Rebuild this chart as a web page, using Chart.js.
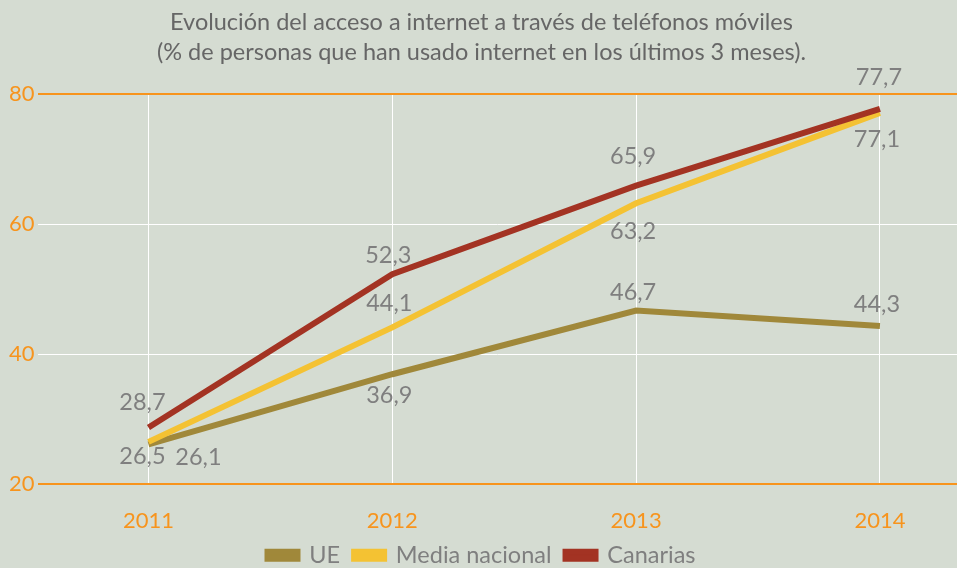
<!DOCTYPE html>
<html>
<head>
<meta charset="utf-8">
<script src="https://cdn.jsdelivr.net/npm/chart.js@4/dist/chart.umd.min.js"></script>
<style>
  html, body { margin: 0; padding: 0; background: #d5dcd2; }
  #wrap { width: 957px; height: 568px; }
</style>
</head>
<body>
<div id="wrap"><canvas id="lineChart"></canvas></div>
<script>
// data
const years = [2011, 2012, 2013, 2014];
const ue = [26.1, 36.9, 46.7, 44.3];
const mediaNacional = [26.5, 44.1, 63.2, 77.1];
const canarias = [28.7, 52.3, 65.9, 77.7];
const yTicks = [20, 40, 60, 80];

const ORANGE = '#f7941d';
const GREY = '#7f7f7f';
const FONT = 'Lato, "Open Sans", sans-serif';

function toPoints(vals) {
  return vals.map((v, i) => ({ x: years[i], y: v }));
}

// where each value label sits relative to its point: [dx, dy]
const ueLabels = [[50, 13], [-3, 21], [-3, -18], [-3, -22]];
const mediaLabels = [[-6, 15], [-3, -24], [-3, 28], [-3, 27]];
const canariasLabels = [[-6, -25], [-4, -19], [-3, -29], [-1, -32]];

const valueLabels = {
  id: 'valueLabels',
  afterDatasetsDraw(chart) {
    const c = chart.ctx;
    c.save();
    c.font = '23.5px ' + FONT;
    c.fillStyle = GREY;
    c.textAlign = 'center';
    c.textBaseline = 'middle';
    chart.data.datasets.forEach((ds, di) => {
      const meta = chart.getDatasetMeta(di);
      meta.data.forEach((pt, i) => {
        const off = ds.labelOffsets[i];
        const txt = ds.data[i].y.toFixed(1).replace('.', ',');
        c.fillText(txt, pt.x + off[0], pt.y + off[1]);
      });
    });
    c.restore();
  }
};

const ctx = document.getElementById('lineChart').getContext('2d');
const lineChart = new Chart(ctx, {
  type: 'line',
  data: {
    datasets: [
      {
        label: 'UE',
        data: toPoints(ue),
        borderColor: '#a0883a',
        backgroundColor: '#a0883a',
        labelOffsets: ueLabels,
        order: 3
      },
      {
        label: 'Media nacional',
        data: toPoints(mediaNacional),
        borderColor: '#f4c233',
        backgroundColor: '#f4c233',
        labelOffsets: mediaLabels,
        order: 2
      },
      {
        label: 'Canarias',
        data: toPoints(canarias),
        borderColor: '#a33323',
        backgroundColor: '#a33323',
        labelOffsets: canariasLabels,
        order: 1
      }
    ]
  },
  options: {
    responsive: true,
    maintainAspectRatio: false,
    animation: false,
    layout: { padding: { left: 6, right: 0, top: 0, bottom: -9 } },
    elements: {
      line: { borderWidth: 6, tension: 0, borderCapStyle: 'butt' },
      point: { radius: 0, hoverRadius: 0 }
    },
    scales: {
      x: {
        type: 'linear',
        min: 2010.545,
        max: 2014.316,
        afterBuildTicks: axis => { axis.ticks = years.map(v => ({ value: v })); },
        afterFit: axis => { axis.height -= 29; },
        ticks: {
          color: ORANGE,
          font: { size: 22, family: FONT },
          padding: 24,
          callback: v => String(v)
        },
        grid: { color: '#ffffff', lineWidth: 1, drawTicks: false },
        border: { display: false }
      },
      y: {
        min: 20,
        max: 80,
        afterBuildTicks: axis => { axis.ticks = yTicks.map(v => ({ value: v })); },
        ticks: {
          color: ORANGE,
          font: { size: 22, family: FONT },
          padding: 3
        },
        grid: {
          color: c => (c.tick && (c.tick.value === 80 || c.tick.value === 20)) ? ORANGE : '#ffffff',
          lineWidth: c => (c.tick && (c.tick.value === 80 || c.tick.value === 20)) ? 2 : 1,
          drawTicks: false
        },
        border: { display: false }
      }
    },
    plugins: {
      title: {
        display: true,
        text: ['Evolución del acceso a internet a través de teléfonos móviles',
               '(% de personas que han usado internet en los últimos 3 meses).'],
        color: '#666666',
        font: { size: 23.5, family: FONT, weight: 'normal', lineHeight: 1.277 },
        padding: { top: 7, bottom: 27 }
      },
      legend: {
        position: 'bottom',
        labels: {
          color: GREY,
          font: { size: 23.5, family: FONT },
          boxWidth: 30,
          boxHeight: 7,
          padding: 14,
          sort: (a, b) => a.datasetIndex - b.datasetIndex
        }
      },
      tooltip: { enabled: false }
    }
  },
  plugins: [valueLabels]
});
</script>
</body>
</html>
